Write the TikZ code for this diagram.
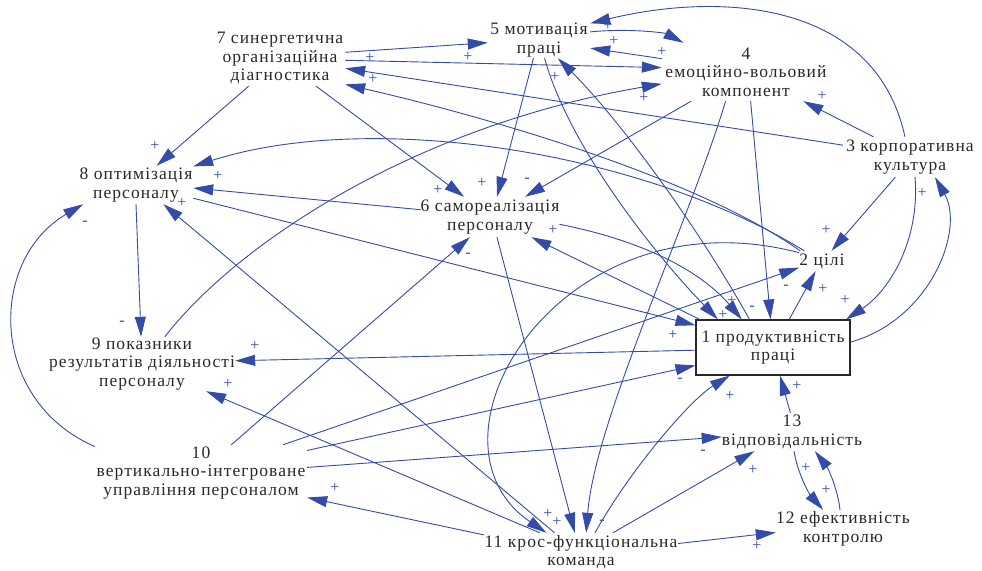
\documentclass[tikz,border=0pt]{standalone}
\usepackage{fontspec}
\setmainfont{Liberation Serif}[LetterSpace=6]
\usetikzlibrary{arrows.meta}
\definecolor{lnk}{RGB}{52,76,168}
\definecolor{txt}{RGB}{40,40,40}

\begin{document}
\begin{tikzpicture}[x=1pt,y=-1pt,
	var/.style={align=center,inner sep=0pt,text=txt,font=\fontsize{17.5}{18.5}\selectfont},
	lnk/.style={draw=lnk,line width=0.9pt,-{Triangle[length=20pt,width=11pt]}},
	sgn/.style={text=lnk,inner sep=0pt,font=\fontsize{16}{16}\selectfont}]
	\useasboundingbox (0,0) rectangle (982,570);
	% variables
	\node[var,draw=txt,line width=1.1pt,minimum width=154pt,minimum height=55pt] (n1) at (773,347.5) {1 продуктивність\\праці};
	\node[var,minimum width=44pt,minimum height=20pt] (n2) at (822,261) {2 цілі};
	\node[var,minimum width=134pt,minimum height=40pt] (n3) at (910,157) {3 корпоративна\\культура};
	\node[var,minimum width=168pt,minimum height=58pt] (n4) at (746,72) {4\\емоційно-вольовий\\компонент};
	\node[var,minimum width=102pt,minimum height=36pt] (n5) at (539,40) {5 мотивація\\праці};
	\node[var,minimum width=136pt,minimum height=40pt] (n6) at (490,217) {6 самореалізація\\персоналу};
	\node[var,minimum width=130pt,minimum height=56pt] (n7) at (280,58) {7 синергетична\\організаційна\\діагностика};
	\node[var,minimum width=114pt,minimum height=38pt] (n8) at (136,185) {8 оптимізація\\персоналу};
	\node[var,minimum width=186pt,minimum height=54pt] (n9) at (142,364) {9 показники\\результатів діяльності\\персоналу};
	\node[var,minimum width=212pt,minimum height=56pt] (n10) at (201,473) {10\\вертикально-інтегроване\\управління персоналом};
	\node[var,minimum width=194pt,minimum height=38pt] (n11) at (581,552) {11 крос-функціональна\\команда};
	\node[var,minimum width=134pt,minimum height=38pt] (n12) at (843,529) {12 ефективність\\контролю};
	\node[var,minimum width=138pt,minimum height=38pt] (n13) at (792,432) {13\\відповідальність};
	% links
	\draw[lnk] (n7.5) -- (n5.183);
	\draw[lnk] (n7.358) -- (n4.177);
	\draw[lnk] (n3.170) -- (n7.351);
	\draw[lnk] (n2.155) .. controls (700,180) and (500,120) .. (n7.338);
	\draw[lnk] (n7.222) -- (n8.43);
	\draw[lnk] (n7.322) -- (n6.142);
	\draw[lnk] (n5.253) -- (n6.71);
	\draw[lnk] (n4.208) -- (n6.30);
	\draw[lnk] (n9.50) .. controls (240,240) and (420,125) .. (n4.188);
	\draw[lnk] (n4.235) .. controls (690,220) and (595,420) .. (n11.75);
	\draw[lnk] (n4.279) -- (n1.95);
	\draw[lnk] (n3.151) -- (n4.333);
	\draw[lnk] (n3.104) .. controls (875,0) and (720,-8) .. (n5.18);
	\draw[lnk] (n5.9) .. controls (630,28) and (665,33) .. (n4.155);
	\draw[lnk] (n4.171) -- (n5.351);
	\draw[lnk] (n3.234) -- (n2.47);
	\draw[lnk] (n3.284) .. controls (920,240) and (890,290) .. (n1.21);
	\draw[lnk] (n1.4) .. controls (930,320) and (965,230) .. (n3.321);
	\draw[lnk] (n2.150) .. controls (640,150) and (370,110) .. (n8.18);
	\draw[lnk] (n6.174) -- (n8.357);
	\draw[lnk] (n8.347) -- (n1.164);
	\draw[lnk] (n8.270) -- (n9.92);
	\draw[lnk] (n10.166) .. controls (-12,400) and (-12,260) .. (n8.200);
	\draw[lnk] (n11.144) -- (n8.325);
	\draw[lnk] (n10.43) -- (n6.225);
	\draw[lnk] (n1.159) -- (n6.334);
	\draw[lnk] (n6.354) .. controls (640,240) and (700,270) .. (n1.138);
	\draw[lnk] (n5.287) .. controls (570,150) and (660,260) .. (n1.153);
	\draw[lnk] (n1.130) .. controls (700,230) and (620,120) .. (n5.316);
	\draw[lnk] (n1.60) -- (n2.238);
	\draw[lnk] (n10.19) -- (n2.196);
	\draw[lnk] (n10.12) -- (n1.193);
	\draw[lnk] (n10.3) -- (n13.184);
	\draw[lnk] (n11.170) -- (n10.347);
	\draw[lnk] (n1.182) -- (n9.2);
	\draw[lnk] (n11.155) -- (n9.337);
	\draw[lnk] (n11.54) .. controls (630,470) and (690,400) .. (n1.213);
	\draw[lnk] (n13.95) -- (n1.284);
	\draw[lnk] (n11.31) -- (n13.207);
	\draw[lnk] (n11.5) -- (n12.183);
	\draw[lnk] (n13.276) .. controls (798,475) and (810,495) .. (n12.136);
	\draw[lnk] (n12.99) .. controls (838,490) and (828,468) .. (n13.320);
	\draw[lnk] (n2.160) .. controls (560,190) and (410,440) .. (n11.151);
	\draw[lnk] (n6.289) -- (n11.108);
	% polarities
	\node[sgn] (p1) at (155,146) {+};
	\node[sgn] (p2) at (218,176) {+};
	\node[sgn] (p3) at (182,203) {+};
	\node[sgn] (p4) at (85,223) {-};
	\node[sgn] (p5) at (122,323) {-};
	\node[sgn] (p6) at (255,346) {+};
	\node[sgn] (p7) at (228,384) {+};
	\node[sgn] (p8) at (370,58) {+};
	\node[sgn] (p9) at (373,79) {+};
	\node[sgn] (p10) at (468,57) {+};
	\node[sgn] (p11) at (555,77) {+};
	\node[sgn] (p12) at (644,98) {+};
	\node[sgn] (p13) at (482,183) {+};
	\node[sgn] (p14) at (527,180) {-};
	\node[sgn] (p15) at (438,190) {+};
	\node[sgn] (p16) at (608,26) {+};
	\node[sgn] (p17) at (614,41) {+};
	\node[sgn] (p18) at (662,52) {+};
	\node[sgn] (p19) at (822,96) {+};
	\node[sgn] (p20) at (922,193) {+};
	\node[sgn] (p21) at (468,255) {-};
	\node[sgn] (p22) at (553,230) {+};
	\node[sgn] (p23) at (826,230) {+};
	\node[sgn] (p24) at (786,287) {-};
	\node[sgn] (p25) at (823,289) {+};
	\node[sgn] (p26) at (845,300) {+};
	\node[sgn] (p27) at (732,301) {+};
	\node[sgn] (p28) at (752,308) {-};
	\node[sgn] (p29) at (723,315) {+};
	\node[sgn] (p30) at (673,335) {+};
	\node[sgn] (p31) at (680,380) {-};
	\node[sgn] (p32) at (730,396) {+};
	\node[sgn] (p33) at (797,386) {+};
	\node[sgn] (p34) at (703,452) {-};
	\node[sgn] (p35) at (753,470) {+};
	\node[sgn] (p36) at (806,468) {+};
	\node[sgn] (p37) at (826,490) {+};
	\node[sgn] (p38) at (757,546) {+};
	\node[sgn] (p39) at (335,488) {+};
	\node[sgn] (p40) at (548,514) {+};
	\node[sgn] (p41) at (557,522) {+};
	\node[sgn] (p42) at (602,522) {-};
\end{tikzpicture}
\end{document}
